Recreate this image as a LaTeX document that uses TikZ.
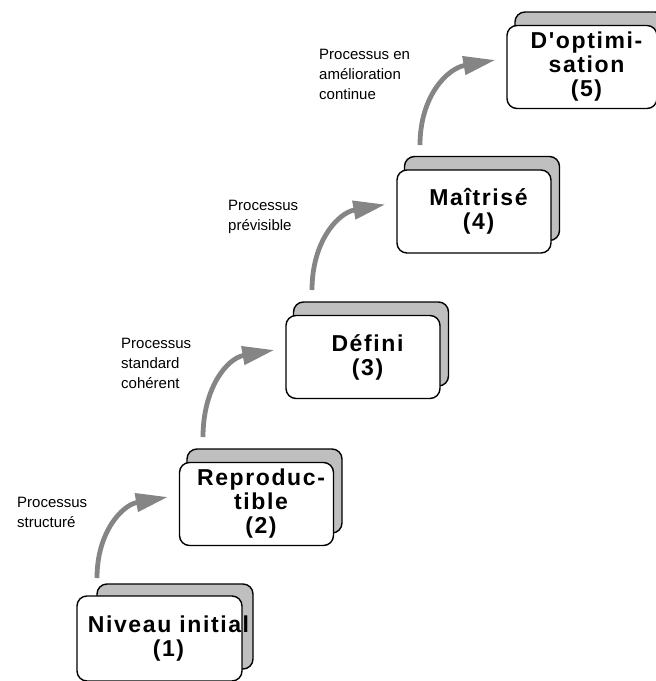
\documentclass[tikz,border=0pt]{standalone}
\usepackage{fontspec}
\setmainfont{Liberation Sans}
\newfontfamily\lvlfont[LetterSpace=7]{Liberation Sans}
\usetikzlibrary{arrows.meta,positioning}
\tikzset{
  backbox/.style={draw, line width=1.4pt, fill=gray!50, rounded corners=10pt,
    minimum width=155pt, minimum height=84pt, inner sep=0pt},
  frontbox/.style={draw, line width=1.4pt, fill=white, rounded corners=10pt,
    minimum width=154pt, minimum height=83pt, inner sep=0pt},
  lvltext/.style={align=center, inner sep=0pt, font=\lvlfont\bfseries\fontsize{23}{24}\selectfont},
  note/.style={anchor=north west, align=left, inner sep=0pt, font=\fontsize{15}{20}\selectfont},
  stair/.style={line width=4.8pt, color=black!48, -{Triangle[length=32pt,width=18pt]}}
}
\begin{document}
\begin{tikzpicture}[x=1pt,y=1pt]
  \useasboundingbox (0,0) rectangle (656,-681);

  % levels
  \node[backbox, minimum width=156pt, minimum height=85pt] (back1) at (175,-626.5) {};
  \node[frontbox, minimum width=165pt, minimum height=85pt] (lvl1) at ([xshift=-15.5pt,yshift=-12pt]back1.center) {};
  \node[lvltext] (txt1) at ([xshift=9pt]lvl1.center) {Niveau initial\\(1)};

  \node[backbox] (back2) at (264.5,-491) {};
  \node[frontbox] (lvl2) at ([xshift=-8pt,yshift=-13pt]back2.center) {};
  \node[lvltext] (txt2) at ([xshift=4.5pt]lvl2.center) {Reproduc-\\tible\\(2)};

  \node[backbox] (back3) at (371,-344) {};
  \node[frontbox] (lvl3) at ([xshift=-8pt,yshift=-13pt]back3.center) {};
  \node[lvltext] (txt3) at ([xshift=4.5pt]lvl3.center) {Défini\\(3)};

  \node[backbox] (back4) at (482,-198.5) {};
  \node[frontbox] (lvl4) at ([xshift=-8pt,yshift=-13pt]back4.center) {};
  \node[lvltext] (txt4) at ([xshift=4.5pt]lvl4.center) {Maîtrisé\\(4)};

  \node[backbox, minimum width=150pt] (back5) at (590,-54) {};
  \node[frontbox, minimum width=150pt] (lvl5) at ([xshift=-8pt,yshift=-13pt]back5.center) {};
  \node[lvltext] (txt5) at ([xshift=4.5pt]lvl5.center) {D'optimi-\\sation\\(5)};

  % steps
  \coordinate (s1) at (97,-578);
  \coordinate (s2) at (203,-437);
  \coordinate (s3) at (312,-290);
  \coordinate (s4) at (420,-145);
  \foreach \i [count = \j from 2] in {1, ..., 4}
    {
      \draw[stair] (s\i) to[out=90, in=190, looseness=1.1] ([xshift=-11pt, yshift=7pt]lvl\j.west);
    }

  \node[note] (note1) at (17,-497) {Processus\\structuré};
  \node[note] (note2) at (121,-338) {Processus\\standard\\cohérent};
  \node[note] (note3) at (228,-200) {Processus\\prévisible};
  \node[note] (note4) at (319,-49) {Processus en\\amélioration\\continue};
\end{tikzpicture}
\end{document}
